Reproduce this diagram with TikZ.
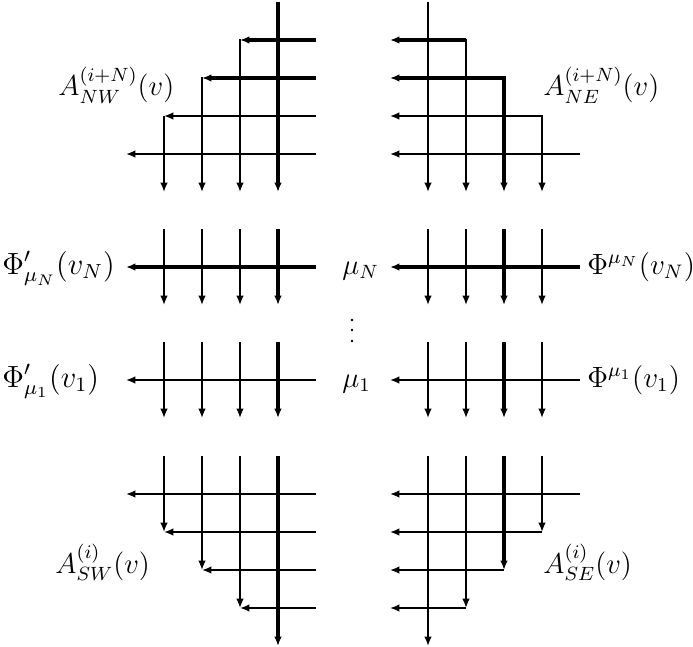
\documentclass[tikz,border=0pt]{standalone}
\usepackage{graphicx}
\usetikzlibrary{arrows.meta}
\newcommand{\labA}[1]{\scalebox{1.08}{\large #1}}
\newcommand{\labP}[1]{\scalebox{1.15}{\large #1}}
\newcommand{\labQ}[1]{\scalebox{1.1}{\large #1}}
\begin{document}
\begin{tikzpicture}[x=0.45pt,y=-0.45pt,
  ln/.style={line width=0.75pt},
  tk/.style={line width=1.4pt},
  ar/.style={-{Latex[length=4.2pt,width=3.4pt]}},
  arr/.style={{Latex[length=4.2pt,width=3.4pt]}-{Latex[length=4.2pt,width=3.4pt]}},
  lab/.style={inner sep=0pt, anchor=base west},
  dot/.style={fill=black}]
\useasboundingbox (0,0) rectangle (693,646);

% ---------- NW block ----------
\draw[tk,ar] (278,2) -- (278,192);
\draw[ln,ar] (240,39.5) -- (240,192);
\draw[ln,ar] (202,77.5) -- (202,192);
\draw[ln,ar] (164,115.6) -- (164,192);
\draw[tk,ar] (316,40) -- (240,40);
\draw[tk,ar] (316,78) -- (202,78);
\draw[ln,ar] (316,116) -- (164,116);
\draw[ln,ar] (316,154) -- (126,154);

% ---------- NE block ----------
\draw[ln,ar] (428,2) -- (428,192);
\draw[tk,ar] (466,40) -- (390,40);
\draw[ln,ar] (466,39.5) -- (466,192);
\draw[tk,arr] (390,78) -- (504,78) -- (504,192);
\draw[ln,arr] (390,116) -- (542,116) -- (542,192);
\draw[ln,ar] (580,154) -- (390,154);

% ---------- middle left ----------
\foreach \x in {164,202,240} {
  \draw[ln,ar] (\x,229) -- (\x,305);
  \draw[ln,ar] (\x,342) -- (\x,418);
}
\draw[tk,ar] (278,229) -- (278,305);
\draw[tk,ar] (278,342) -- (278,418);
\draw[tk,ar] (316,267) -- (126,267);
\draw[ln,ar] (316,380) -- (126,380);

% ---------- middle right ----------
\foreach \x in {428,466,542} {
  \draw[ln,ar] (\x,229) -- (\x,305);
  \draw[ln,ar] (\x,342) -- (\x,418);
}
\draw[tk,ar] (504,229) -- (504,305);
\draw[tk,ar] (504,342) -- (504,418);
\draw[tk,ar] (580,267) -- (390,267);
\draw[ln,ar] (580,380) -- (390,380);

% ---------- SW block ----------
\draw[tk,ar] (278,456) -- (278,646);
\draw[ln,ar] (240,456) -- (240,608);
\draw[ln,ar] (202,456) -- (202,570);
\draw[ln,ar] (164,456) -- (164,532);
\draw[ln,ar] (316,494) -- (126,494);
\draw[ln,ar] (316,532) -- (164,532);
\draw[ln,ar] (316,570) -- (202,570);
\draw[ln,ar] (316,608) -- (240,608);

% ---------- SE block ----------
\draw[ln,ar] (428,456) -- (428,646);
\draw[ln,ar] (466,456) -- (466,608);
\draw[tk,ar] (504,456) -- (504,570);
\draw[ln,ar] (542,456) -- (542,532);
\draw[ln,ar] (580,494) -- (390,494);
\draw[ln,ar] (542,532) -- (390,532);
\draw[ln,ar] (504,570) -- (390,570);
\draw[ln,ar] (466,608) -- (390,608);

% ---------- labels ----------
\node[lab] (anw) at (58,96) {\labA{$A^{(i+N)}_{NW}(v)$}};
\node[lab] (ane) at (543,96) {\labA{$A^{(i+N)}_{NE}(v)$}};
\node[lab] (asw) at (55,573) {\labA{$A^{(i)}_{SW}(v)$}};
\node[lab] (ase) at (543,573) {\labA{$A^{(i)}_{SE}(v)$}};
\node[lab] (pln) at (2,274) {\labP{$\Phi'_{\mu_N}(v_N)$}};
\node[lab] (pl1) at (2,387) {\labP{$\Phi'_{\mu_1}(v_1)$}};
\node[lab] (prn) at (587,274) {\labQ{$\Phi^{\mu_N}(v_N)$}};
\node[lab] (pr1) at (587,387) {\labQ{$\Phi^{\mu_1}(v_1)$}};
\node[lab] (mun) at (342,274) {\labA{$\mu_N$}};
\node[lab] (mu1) at (342,387) {\labA{$\mu_1$}};
\fill[dot] (352,320) circle (0.65pt);
\fill[dot] (352,330) circle (0.65pt);
\fill[dot] (352,341) circle (0.65pt);
\end{tikzpicture}
\end{document}
